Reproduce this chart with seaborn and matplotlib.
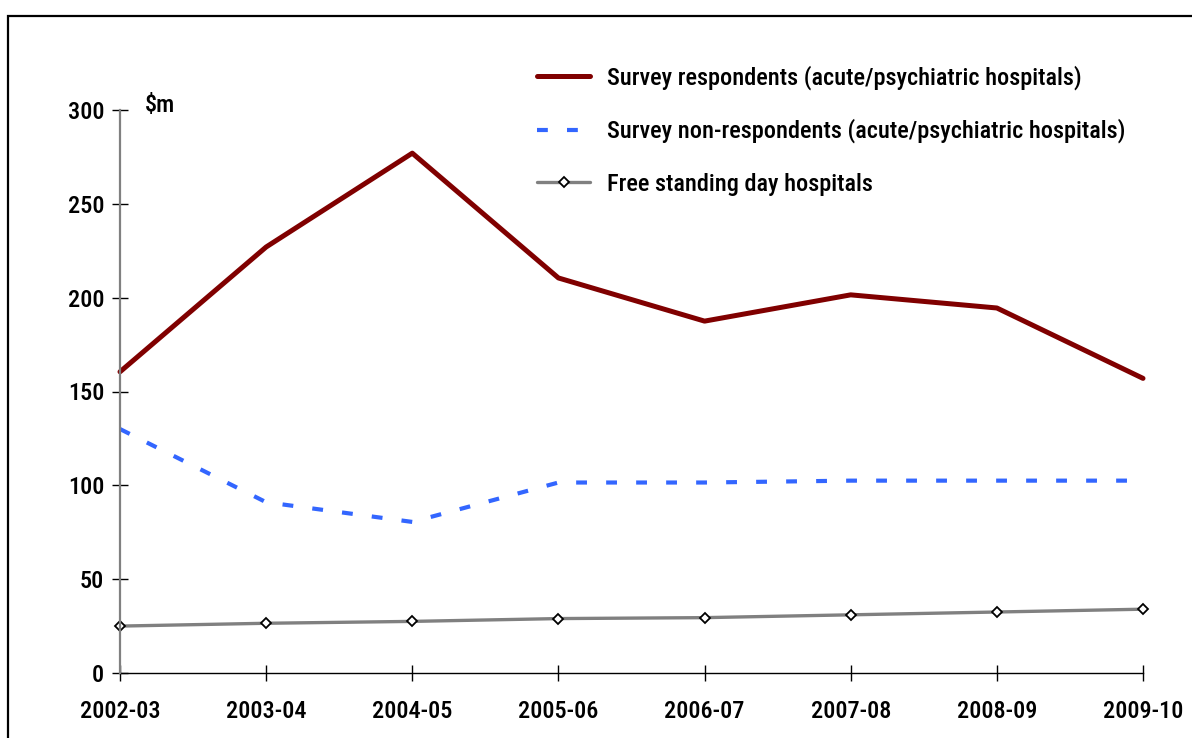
import matplotlib
matplotlib.use("Agg")
import matplotlib.pyplot as plt
from matplotlib import font_manager
from matplotlib.patches import Rectangle
import seaborn as sns
import pandas as pd

# Financial years and spending ($m) by hospital group
years = ["2002-03", "2003-04", "2004-05", "2005-06",
         "2006-07", "2007-08", "2008-09", "2009-10"]
respondents = [160.5, 227, 277, 210.5, 187.5, 201.5, 194.5, 157]
non_respondents = [130, 91, 80.5, 101.5, 101.5, 102.5, 102.5, 102.5]
day_hospitals = [25, 26.5, 27.5, 29, 29.5, 31, 32.5, 34]

series_names = ["Survey respondents (acute/psychiatric hospitals)",
                "Survey non-respondents (acute/psychiatric hospitals)",
                "Free standing day hospitals"]
y_ticks = [0, 50, 100, 150, 200, 250, 300]

sns.set_theme(style="white")
available = {f.name for f in font_manager.fontManager.ttflist}
family = next((f for f in ("Roboto Condensed", "Archivo Narrow", "PT Sans Narrow")
               if f in available), "Liberation Sans")
plt.rcParams["font.family"] = [family, "DejaVu Sans"]
WEIGHT = 500
FS = 17.5

W, H = 1192, 738
fig = plt.figure(figsize=(W / 100, H / 100), dpi=100)
fig.patch.set_facecolor("white")

# outer frame (only left and top edges fall inside the canvas)
fig.add_artist(Rectangle((8 / W, -0.1), 1.2, 1 - 16 / H + 0.1,
                         transform=fig.transFigure, fill=False,
                         edgecolor="black", linewidth=1.6))

ax = fig.add_axes([120 / W, 1 - 673 / H, (1143 - 120) / W, (673 - 110) / H])
x = list(range(len(years)))

df = pd.DataFrame({"x": x, "resp": respondents,
                   "nonresp": non_respondents, "day": day_hospitals})

sns.lineplot(data=df, x="x", y="resp", ax=ax, color="#800000",
             linewidth=3.6, label=series_names[0],
             solid_capstyle="round", clip_on=False)
sns.lineplot(data=df, x="x", y="nonresp", ax=ax, color="#3366ff",
             linewidth=3.0, linestyle=(0, (2.6, 4.6)), label=series_names[1],
             dash_capstyle="butt", clip_on=False)
sns.lineplot(data=df, x="x", y="day", ax=ax, color="#808080",
             linewidth=2.4, marker="D", markersize=5.5,
             markerfacecolor="white", markeredgecolor="black",
             markeredgewidth=1.3, label=series_names[2], clip_on=False)

ax.set_xlim(0, len(years) - 1)
ax.set_ylim(0, 300)
ax.set_xticks(x)
ax.set_xticklabels(years)
ax.set_yticks(y_ticks)
ax.set_xlabel("")
ax.set_ylabel("")
ax.set_facecolor("white")

for side in ("top", "right"):
    ax.spines[side].set_visible(False)
ax.spines["left"].set_color("#808080")
ax.spines["left"].set_linewidth(1.6)
ax.spines["bottom"].set_color("black")
ax.spines["bottom"].set_linewidth(1.0)
ax.spines["bottom"].set_zorder(0.5)

ax.tick_params(axis="both", direction="inout", length=11.5, width=1.0,
               color="black", labelsize=FS, labelcolor="black",
               bottom=True, left=True)
ax.tick_params(axis="x", pad=14)
ax.tick_params(axis="y", pad=5.5)
for lbl in ax.get_xticklabels() + ax.get_yticklabels():
    lbl.set_fontweight(WEIGHT)

fig.text(145 / W, 1 - 105 / H, "$m", fontsize=FS, fontweight=WEIGHT,
         va="center", ha="left", color="black")

leg = ax.legend(loc="upper left", bbox_to_anchor=(537 / W, 1 - 65 / H),
                bbox_transform=fig.transFigure, frameon=False,
                fontsize=FS, handlelength=2.2, handletextpad=0.68,
                labelspacing=1.2, borderpad=0, borderaxespad=0)
for t in leg.get_texts():
    t.set_fontweight(WEIGHT)
    t.set_color("black")

fig.savefig("out.png", dpi=100, facecolor="white")
